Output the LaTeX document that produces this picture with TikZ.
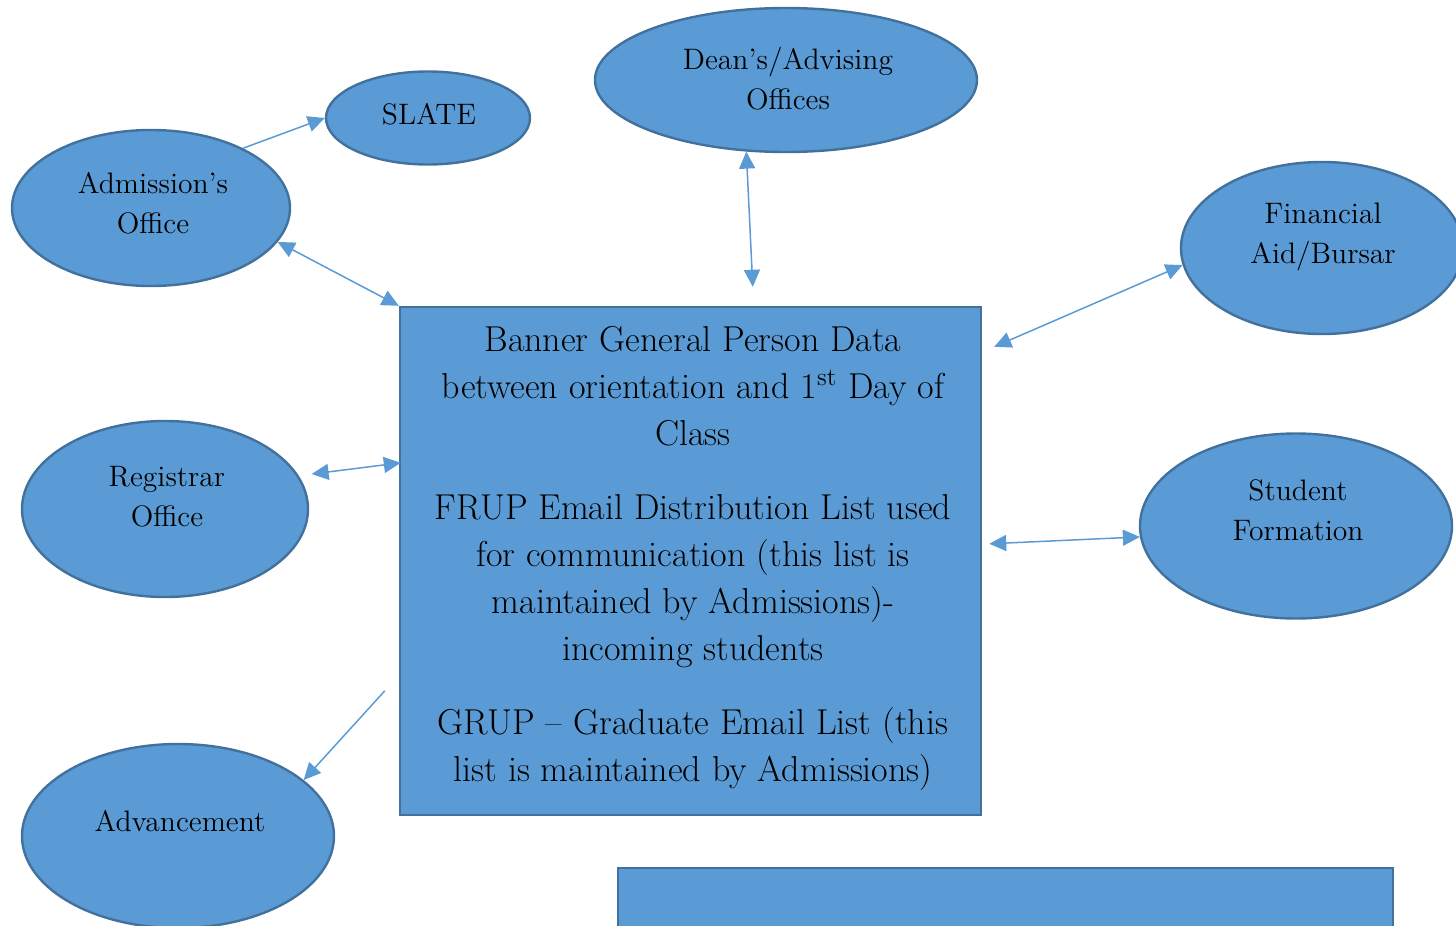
\documentclass[tikz,border=0pt]{standalone}
\usepackage{tikz}
\usetikzlibrary{shapes.geometric, arrows.meta, positioning, calc}
\definecolor{bubble}{HTML}{5B9BD5}
\definecolor{bubbleline}{HTML}{41719C}
\begin{document}
\begin{tikzpicture}[x=0.5pt, y=-0.5pt, >={Triangle[length=8.5pt,width=8pt]},
  bubble/.style={ellipse, draw=bubbleline, fill=bubble, line width=1.2pt, inner sep=0pt},
  panel/.style={rectangle, draw=bubbleline, fill=bubble, line width=1.2pt, inner sep=0pt},
  lbl/.style={align=center, font=\fontsize{14.8}{20}\selectfont},
  link/.style={draw=bubble, line width=0.75pt}]
\useasboundingbox (0,0) rectangle (1456,926);
\clip (0,0) rectangle (1456,926);
\node[bubble, minimum width=139pt, minimum height=78pt] (adm) at (151,208) {};
\node[bubble, minimum width=102pt, minimum height=46.5pt] (slate) at (428,118) {};
\node[bubble, minimum width=191pt, minimum height=72pt] (dean) at (786,80) {};
\node[bubble, minimum width=141pt, minimum height=86pt] (fin) at (1322,248) {};
\node[bubble, minimum width=143pt, minimum height=88pt] (reg) at (165,509) {};
\node[bubble, minimum width=156pt, minimum height=92.5pt] (stud) at (1296,526) {};
\node[bubble, minimum width=156pt, minimum height=92pt] (adv) at (178,836) {};
\node[panel, minimum width=290.5pt, minimum height=254pt] (banner) at (690.5,561) {};
\node[panel, minimum width=387.5pt, minimum height=66pt] (notes) at (1005.5,934) {};

\node[lbl] (admT) at (153,203) {Admission's\\Office};
\node[lbl] (slateT) at (429,114) {SLATE};
\node[lbl] (deanT) at (788,79) {Dean's/Advising\\Offices};
\node[lbl] (finT) at (1323,237) {Financial\\Aid/Bursar};
\node[lbl] (regT) at (167,497) {Registrar\\Office};
\node[lbl] (studT) at (1298,510) {Student\\Formation};
\node[lbl] (advT) at (180,821) {Advancement};
\node[align=center, font=\fontsize{18}{23.5}\selectfont] (bannerT) at (693,558)
  {Banner General Person Data\\
   between orientation and 1\textsuperscript{st} Day of\\
   Class\\[13.5pt]
   FRUP Email Distribution List used\\
   for communication (this list is\\
   maintained by Admissions)-\\
   incoming students\\[13.5pt]
   GRUP -- Graduate Email List (this\\
   list is maintained by Admissions)};

\draw[link, ->] (adm.33) -- (slate.west);
\draw[link, <->] (adm.-15) -- (banner.north west);
\draw[link, <->] (dean.-119) -- ($(banner.north west)+(354,-19)$);
\draw[link, <->] ($(banner.north east)+(12,41)$) -- (fin.187);
\draw[link, <->, shorten <=6.5pt] (reg.14) -- ($(banner.north west)+(2,157)$);
\draw[link, <->] ($(banner.north east)+(7,238)$) -- (stud.184);
\draw[link, ->] ($(banner.north west)+(-14,385)$) -- (adv.24);
\end{tikzpicture}
\end{document}
